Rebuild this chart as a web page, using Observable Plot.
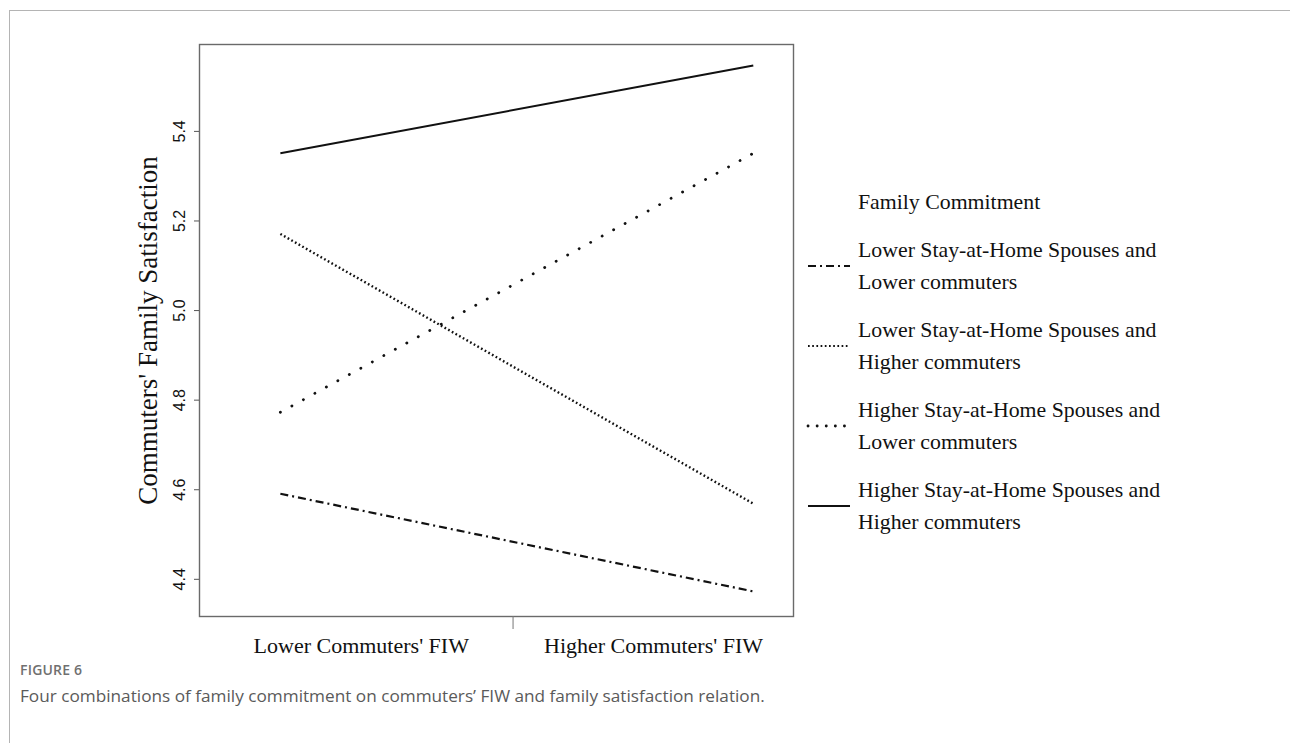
<!DOCTYPE html>
<html>
<head>
<meta charset="utf-8">
<script src="https://cdn.jsdelivr.net/npm/d3@7"></script>
<script src="https://cdn.jsdelivr.net/npm/@observablehq/plot@0.6"></script>
<style>
  html, body { margin: 0; padding: 0; background: #fff; }
  #page { position: relative; width: 1290px; height: 743px; overflow: hidden; }
  #rule-top { position: absolute; left: 9px; top: 10px; right: 0; height: 0; border-top: 1.5px solid #b4b4b4; }
  #rule-left { position: absolute; left: 9px; top: 10px; bottom: 0; width: 0; border-left: 1.5px solid #b4b4b4; }
  #chart { position: absolute; left: 0; top: 0; }
  #legend { position: absolute; left: 806px; top: 186px; font-family: "Liberation Serif", "Times New Roman", serif; font-size: 21.8px; color: #111; }
  #legend .title { margin-left: 52px; line-height: 32px; }
  #legend .item { display: flex; align-items: center; margin-top: 16px; }
  #legend .item svg { flex: 0 0 52px; }
  #legend .item .lab { line-height: 32px; white-space: nowrap; }
  #caption { position: absolute; left: 20px; top: 660px; font-family: "Open Sans", sans-serif; }
  #caption .fig { font-size: 14px; font-weight: 600; color: #707070; letter-spacing: 0.2px; }
  #caption .txt { font-size: 17.2px; color: #5a5a5a; margin-top: 5px; }
</style>
</head>
<body>
<div id="page">
  <div id="rule-top"></div>
  <div id="rule-left"></div>
  <div id="chart"></div>
  <div id="legend"></div>
  <div id="caption">
    <div class="fig">FIGURE 6</div>
    <div class="txt">Four combinations of family commitment on commuters’ FIW and family satisfaction relation.</div>
  </div>
</div>
<script>
// Commuters' FIW conditions (x) and where their labels sit on the x scale
const conditions = ["Lower Commuters' FIW", "Higher Commuters' FIW"];
const conditionLabelAt = [0.171, 0.789];
const dividerAt = [0.492];

// Family commitment groups: spouse level × commuter level
const spouseLevel = ["Lower", "Lower", "Higher", "Higher"];
const commuterLevel = ["Lower", "Higher", "Lower", "Higher"];

// Predicted family satisfaction at lower and higher FIW
const atLowerFIW = [4.591, 5.171, 4.773, 5.351];
const atHigherFIW = [4.373, 4.569, 5.351, 5.547];

const yTicks = [4.4, 4.6, 4.8, 5.0, 5.2, 5.4];
const yTitle = "Commuters' Family Satisfaction";
const legendTitle = "Family Commitment";

// line styles per group: dash-dot, fine dots, sparse dots, solid
const dashes = ["8,4,2,4", "1.7,2.5", "0.1,13", null];
const caps = ["butt", "butt", "round", "butt"];
const widths = [2.2, 2.4, 2.8, 2];

const groups = spouseLevel.map((s, i) => ({
  key: i,
  label: `${s} Stay-at-Home Spouses and`,
  label2: `${commuterLevel[i]} commuters`
}));

const rows = [];
groups.forEach((g, i) => {
  rows.push({group: i, x: 0, y: atLowerFIW[i]});
  rows.push({group: i, x: 1, y: atHigherFIW[i]});
});

const serif = "Liberation Serif, Times New Roman, serif";
const sans = "Liberation Sans, Arial, sans-serif";

const chart = Plot.plot({
  width: 1290,
  height: 660,
  marginLeft: 199,
  marginRight: 497,
  marginTop: 44,
  marginBottom: 44,
  style: {background: "transparent", color: "#111"},
  x: {type: "linear", domain: [-0.171, 1.085]},
  y: {domain: [4.317, 5.594]},
  marks: [
    Plot.frame({stroke: "#6a6a6a", strokeWidth: 1.4}),
    Plot.axisY({
      ticks: yTicks,
      tickSize: 5,
      tickRotate: -90,
      tickPadding: 10,
      tickFormat: d3.format(".1f"),
      fontSize: 16,
      fontFamily: sans,
      stroke: "#555",
      label: null
    }),
    Plot.axisX({
      ticks: dividerAt,
      tickSize: 13,
      tickFormat: () => "",
      stroke: "#777",
      label: null
    }),
    Plot.axisX({
      ticks: conditionLabelAt,
      tickSize: 0,
      tickPadding: 21,
      tickFormat: (d, i) => conditions[i],
      fontSize: 22,
      fontFamily: serif,
      label: null
    }),
    Plot.text([yTitle], {
      frameAnchor: "left",
      textAnchor: "middle",
      rotate: -90,
      dx: -51,
      fontSize: 27,
      fontFamily: serif,
      fill: "#111"
    }),
    ...groups.map((g, i) =>
      Plot.line(rows.filter(r => r.group === i), {
        x: "x",
        y: "y",
        stroke: "#111",
        strokeWidth: widths[i],
        strokeLinecap: caps[i],
        strokeDasharray: dashes[i] || undefined
      })
    )
  ]
});
document.getElementById("chart").appendChild(chart);

// legend: line sample + two-line label per group
const legend = d3.select("#legend");
legend.append("div").attr("class", "title").text(legendTitle);
groups.forEach((g, i) => {
  const item = legend.append("div").attr("class", "item");
  const svg = item.append("svg").attr("width", 52).attr("height", 12);
  svg.append("line")
    .attr("x1", 2).attr("x2", 44).attr("y1", 6).attr("y2", 6)
    .attr("stroke", "#111")
    .attr("stroke-width", i === 1 ? 1.8 : widths[i])
    .attr("stroke-linecap", caps[i])
    .attr("stroke-dasharray", i === 2 ? "0.1,9" : dashes[i]);
  const lab = item.append("div").attr("class", "lab");
  lab.append("div").text(g.label);
  lab.append("div").text(g.label2);
});
</script>
</body>
</html>
